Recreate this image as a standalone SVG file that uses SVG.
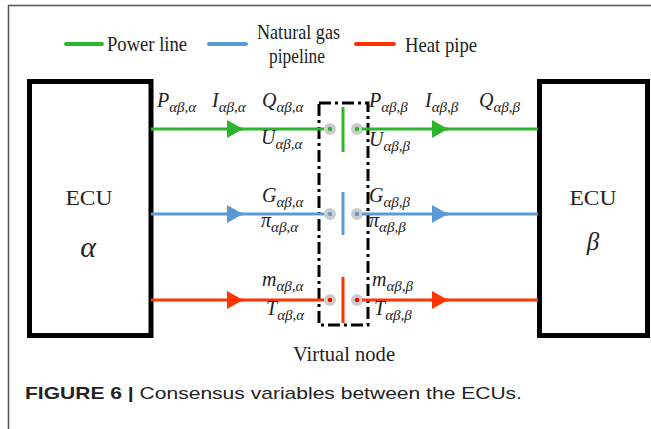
<svg xmlns="http://www.w3.org/2000/svg" width="651" height="429" viewBox="0 0 651 429">
<style>
.t{font-family:"Liberation Serif","Times New Roman",serif;fill:#222;}
.v{font-family:"Liberation Serif","Times New Roman",serif;font-style:italic;font-size:20px;fill:#222;}
.s{font-size:15px;}
.box{fill:#fff;stroke:#000;stroke-width:5;}
.g{stroke:#2db52d;}
.b{stroke:#5b9bd5;}
.r{stroke:#ff3300;}
.ln{stroke-width:3;fill:none;}
.lg{stroke-width:4;stroke-linecap:round;}
.bar{stroke-width:3;}
.ring{fill:#ccc;}
.leg{font-size:22px;}
</style>
<defs>
<marker id="ag" viewBox="0 0 16 18" refX="16" refY="9" markerWidth="16" markerHeight="18" markerUnits="userSpaceOnUse" orient="auto"><path d="M0,0L16,9L0,18Z" fill="#2db52d"/></marker>
<marker id="ab" viewBox="0 0 16 18" refX="16" refY="9" markerWidth="16" markerHeight="18" markerUnits="userSpaceOnUse" orient="auto"><path d="M0,0L16,9L0,18Z" fill="#5b9bd5"/></marker>
<marker id="ar" viewBox="0 0 16 18" refX="16" refY="9" markerWidth="16" markerHeight="18" markerUnits="userSpaceOnUse" orient="auto"><path d="M0,0L16,9L0,18Z" fill="#ff3300"/></marker>
</defs>
<rect width="651" height="429" fill="#fff"/>
<path d="M8.5,429V5.5H651" fill="none" stroke="#555" stroke-width="1.5"/>
<g id="legend">
<line x1="66" y1="44" x2="102" y2="44" class="lg g"/>
<text x="107" y="51" class="t leg" textLength="80" lengthAdjust="spacingAndGlyphs">Power line</text>
<line x1="209" y1="44" x2="246" y2="44" class="lg b"/>
<text x="257" y="39" class="t leg" textLength="83" lengthAdjust="spacingAndGlyphs">Natural gas</text>
<text x="269" y="63" class="t leg" textLength="56" lengthAdjust="spacingAndGlyphs">pipeline</text>
<line x1="356" y1="44" x2="394" y2="44" class="lg r"/>
<text x="405" y="52" class="t leg" textLength="72" lengthAdjust="spacingAndGlyphs">Heat pipe</text>
</g>
<g id="ecu-alpha">
<rect x="29.5" y="81.5" width="121.5" height="254" class="box"/>
<text x="89" y="205" class="t" font-size="21" text-anchor="middle" textLength="47" lengthAdjust="spacingAndGlyphs">ECU</text>
<text x="88" y="257" class="v" style="font-size:30px" text-anchor="middle">α</text>
</g>
<g id="ecu-beta">
<rect x="539.5" y="81.5" width="108" height="254" class="box"/>
<text x="593" y="205" class="t" font-size="21" text-anchor="middle" textLength="47" lengthAdjust="spacingAndGlyphs">ECU</text>
<text x="593" y="250" class="v" style="font-size:25px" text-anchor="middle">β</text>
</g>
<g id="virtual-node">
<rect x="319" y="103" width="49" height="222" fill="none" stroke="#000" stroke-width="3" stroke-dasharray="12,4,3,4"/>
<line x1="343" y1="107" x2="343" y2="152" class="bar g"/>
<line x1="343" y1="192" x2="343" y2="235" class="bar b"/>
<line x1="343" y1="277" x2="343" y2="323" class="bar r"/>
<circle cx="330" cy="129" r="6" class="ring"/><circle cx="330" cy="129" r="2.2" fill="#2db52d"/>
<circle cx="357" cy="129" r="6" class="ring"/><circle cx="357" cy="129" r="2.2" fill="#2db52d"/>
<circle cx="330" cy="214" r="6" class="ring"/><circle cx="330" cy="214" r="2.2" fill="#5b9bd5"/>
<circle cx="357" cy="214" r="6" class="ring"/><circle cx="357" cy="214" r="2.2" fill="#5b9bd5"/>
<circle cx="330" cy="300" r="6" class="ring"/><circle cx="330" cy="300" r="2.2" fill="#ff0000"/>
<circle cx="357" cy="300" r="6" class="ring"/><circle cx="357" cy="300" r="2.2" fill="#ff0000"/>
<text x="344" y="361" class="t" font-size="21" text-anchor="middle" textLength="102" lengthAdjust="spacingAndGlyphs">Virtual node</text>
</g>
<g id="connectors">
<line x1="151" y1="129" x2="243" y2="129" class="ln g" marker-end="url(#ag)"/>
<line x1="240" y1="129" x2="324" y2="129" class="ln g"/>
<line x1="362" y1="129" x2="448" y2="129" class="ln g" marker-end="url(#ag)"/>
<line x1="445" y1="129" x2="538" y2="129" class="ln g"/>
<line x1="151" y1="214" x2="243" y2="214" class="ln b" marker-end="url(#ab)"/>
<line x1="240" y1="214" x2="324" y2="214" class="ln b"/>
<line x1="362" y1="214" x2="448" y2="214" class="ln b" marker-end="url(#ab)"/>
<line x1="445" y1="214" x2="538" y2="214" class="ln b"/>
<line x1="151" y1="300" x2="243" y2="300" class="ln r" marker-end="url(#ar)"/>
<line x1="240" y1="300" x2="324" y2="300" class="ln r"/>
<line x1="362" y1="300" x2="448" y2="300" class="ln r" marker-end="url(#ar)"/>
<line x1="445" y1="300" x2="538" y2="300" class="ln r"/>
</g>
<g id="labels">
<text x="157" y="107" class="v">P<tspan class="s" dy="5">αβ,α</tspan></text>
<text x="212" y="107" class="v">I<tspan class="s" dy="5">αβ,α</tspan></text>
<text x="262" y="107" class="v">Q<tspan class="s" dy="5">αβ,α</tspan></text>
<text x="261" y="144" class="v">U<tspan class="s" dy="5">αβ,α</tspan></text>
<text x="369" y="107" class="v">P<tspan class="s" dy="5">αβ,β</tspan></text>
<text x="425" y="107" class="v">I<tspan class="s" dy="5">αβ,β</tspan></text>
<text x="479" y="107" class="v">Q<tspan class="s" dy="5">αβ,β</tspan></text>
<text x="369" y="146" class="v">U<tspan class="s" dy="5">αβ,β</tspan></text>
<text x="262" y="202" class="v">G<tspan class="s" dy="5">αβ,α</tspan></text>
<text x="261" y="227" class="v">π<tspan class="s" dy="5">αβ,α</tspan></text>
<text x="369" y="202" class="v">G<tspan class="s" dy="5">αβ,β</tspan></text>
<text x="369" y="227" class="v">π<tspan class="s" dy="5">αβ,β</tspan></text>
<text x="262" y="286" class="v">m<tspan class="s" dy="5">αβ,α</tspan></text>
<text x="266" y="315" class="v">T<tspan class="s" dy="5">αβ,α</tspan></text>
<text x="372" y="286" class="v">m<tspan class="s" dy="5">αβ,β</tspan></text>
<text x="374" y="315" class="v">T<tspan class="s" dy="5">αβ,β</tspan></text>
</g>
<text x="25" y="399" font-family="Liberation Sans,Arial,sans-serif" font-size="17" fill="#222" textLength="497" lengthAdjust="spacingAndGlyphs"><tspan font-weight="bold">FIGURE 6 |</tspan> Consensus variables between the ECUs.</text>
</svg>
